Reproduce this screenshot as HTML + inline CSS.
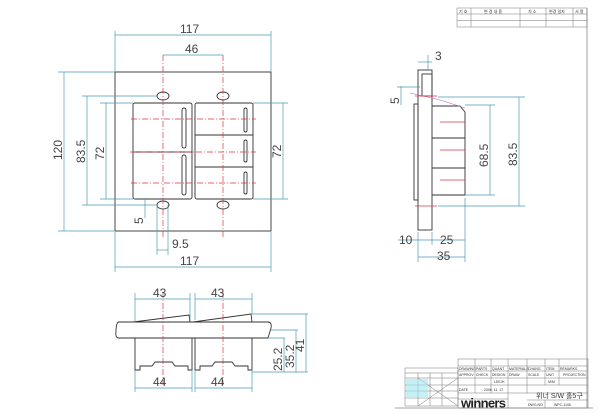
<!DOCTYPE html>
<html><head><meta charset="utf-8"><style>
html,body{margin:0;padding:0;background:#fff;}
svg{display:block;font-family:"Liberation Sans","Noto Sans CJK KR",sans-serif;}
.d{stroke:#4a9ab2;stroke-width:0.7;fill:none}
.k{stroke:#333;stroke-width:0.9;fill:none}
.r{stroke:#e0304a;stroke-width:0.7;fill:none;stroke-dasharray:6 2 1 2}
.t{fill:#444;font-size:12px}
.s{fill:#333;font-size:4px}
</style></head><body>
<svg width="600" height="419" viewBox="0 0 600 419">
<line x1="587" y1="8" x2="587" y2="408" stroke="#888" stroke-width="0.8"/>
<line x1="395" y1="408" x2="593" y2="408" stroke="#888" stroke-width="0.8"/>
<g stroke="#777" stroke-width="0.5" fill="none">
<rect x="457" y="8" width="130" height="19"/>
<line x1="457" y1="14" x2="587" y2="14"/><line x1="457" y1="20.5" x2="587" y2="20.5"/>
<line x1="471" y1="8" x2="471" y2="27"/><line x1="520" y1="8" x2="520" y2="27"/>
<line x1="546" y1="8" x2="546" y2="27"/><line x1="573" y1="8" x2="573" y2="27"/>
</g>
<text class="s" x="459" y="13">기 호</text><text class="s" x="484" y="13">변 경 내 용</text>
<text class="s" x="528" y="13">치 소</text><text class="s" x="549" y="13">변경 일자</text><text class="s" x="575" y="13">서 명</text>

<!-- FRONT VIEW -->
<rect x="115" y="72" width="156" height="159" class="k" stroke-width="0.8"/>
<rect x="133" y="103" width="59" height="96" rx="2" class="k" stroke-width="1.2"/>
<rect x="195" y="103" width="58" height="96" rx="2" class="k" stroke-width="1.2"/>
<line x1="133" y1="152" x2="192" y2="152" class="k"/>
<line x1="195" y1="135" x2="253" y2="135" class="k"/>
<line x1="195" y1="167" x2="253" y2="167" class="k"/>
<rect x="182" y="108" width="4" height="40" rx="2" class="k" stroke-width="0.6"/>
<rect x="182" y="155" width="4" height="40" rx="2" class="k" stroke-width="0.6"/>
<rect x="244" y="108" width="3" height="24" rx="1.5" class="k" stroke-width="0.6"/>
<rect x="244" y="140" width="3" height="22" rx="1.5" class="k" stroke-width="0.6"/>
<rect x="244" y="172" width="3" height="22" rx="1.5" class="k" stroke-width="0.6"/>
<g class="k" stroke-width="0.7">
<ellipse cx="163" cy="96" rx="6" ry="4"/><ellipse cx="223" cy="96" rx="6" ry="4"/>
<ellipse cx="163" cy="205" rx="6" ry="4"/><ellipse cx="223" cy="205" rx="6" ry="4"/>
</g>
<line x1="163" y1="55" x2="163" y2="238" class="r"/>
<line x1="223" y1="55" x2="223" y2="238" class="r"/>
<line x1="131" y1="119" x2="256" y2="119" class="r"/>
<line x1="131" y1="183" x2="256" y2="183" class="r"/>
<line x1="130" y1="152" x2="256" y2="152" class="r"/>
<g class="d">
<line x1="115" y1="35" x2="271" y2="35"/><line x1="115" y1="31" x2="115" y2="72"/><line x1="271" y1="31" x2="271" y2="72"/>
<line x1="163" y1="55" x2="223" y2="55"/>
<line x1="115" y1="267" x2="271" y2="267"/><line x1="115" y1="232" x2="115" y2="272"/><line x1="271" y1="232" x2="271" y2="272"/>
<line x1="106" y1="103" x2="106" y2="199"/><line x1="100" y1="103" x2="133" y2="103"/><line x1="100" y1="199" x2="133" y2="199"/>
<line x1="87" y1="96" x2="87" y2="205"/><line x1="82" y1="96" x2="157" y2="96"/><line x1="82" y1="205" x2="157" y2="205"/>
<line x1="64" y1="72" x2="64" y2="231"/><line x1="58" y1="72" x2="115" y2="72"/><line x1="58" y1="231" x2="115" y2="231"/>
<line x1="283" y1="103" x2="283" y2="199"/><line x1="253" y1="103" x2="288" y2="103"/><line x1="253" y1="199" x2="288" y2="199"/>
<line x1="157" y1="205" x2="157" y2="255"/><line x1="168" y1="205" x2="168" y2="255"/><line x1="157" y1="250" x2="168" y2="250"/>
<line x1="145" y1="199" x2="145" y2="218"/>
</g>
<text class="t" x="180" y="33">117</text><text class="t" x="185" y="53">46</text>
<text class="t" x="180" y="265">117</text><text class="t" x="172" y="248">9.5</text>
<text class="t" transform="translate(104,160) rotate(-90)">72</text>
<text class="t" transform="translate(85,163) rotate(-90)">83.5</text>
<text class="t" transform="translate(62,160) rotate(-90)">120</text>
<text class="t" transform="translate(281,158) rotate(-90)">72</text>
<text class="t" transform="translate(143,224) rotate(-90)">5</text>

<!-- SIDE VIEW -->
<rect x="418" y="70" width="14" height="160" class="k"/>
<rect x="414" y="104" width="4" height="96" class="k" stroke-width="0.7"/>
<rect x="422" y="74" width="10" height="22" class="k" stroke-width="0.6"/>
<path d="M432 106 L460 106 L465 112 L465 195 L432 195" class="k"/>
<line x1="432" y1="138" x2="465" y2="138" class="k" stroke-width="0.6"/>
<line x1="432" y1="168" x2="465" y2="168" class="k" stroke-width="0.6"/>
<path d="M410 93 L440 100 L465 108" stroke="#c060c0" stroke-width="0.6" fill="none"/>
<g stroke="#e0304a" stroke-width="0.7">
<line x1="440" y1="122" x2="465" y2="122"/><line x1="440" y1="150" x2="465" y2="150"/><line x1="440" y1="180" x2="465" y2="180"/>
<line x1="415" y1="96" x2="437" y2="96"/><line x1="415" y1="206" x2="437" y2="206"/>
</g>
<g class="d">
<line x1="438" y1="97" x2="525" y2="97"/><line x1="438" y1="206" x2="525" y2="206"/><line x1="519" y1="97" x2="519" y2="206"/>
<line x1="465" y1="105" x2="495" y2="105"/><line x1="465" y1="195" x2="495" y2="195"/><line x1="490" y1="105" x2="490" y2="195"/>
<line x1="418" y1="62" x2="432" y2="62"/><line x1="428" y1="55" x2="428" y2="70"/>
<line x1="401" y1="86" x2="401" y2="105"/><line x1="397" y1="87" x2="420" y2="87"/>
<line x1="398" y1="240" x2="465" y2="240"/><line x1="418" y1="232" x2="418" y2="262"/><line x1="432" y1="232" x2="432" y2="245"/><line x1="465" y1="198" x2="465" y2="262"/>
<line x1="418" y1="257" x2="465" y2="257"/>
</g>
<text class="t" x="435" y="60">3</text>
<text class="t" transform="translate(399,104) rotate(-90)">5</text>
<text class="t" transform="translate(488,167) rotate(-90)">68.5</text>
<text class="t" transform="translate(517,166) rotate(-90)">83.5</text>
<text class="t" x="399" y="244">10</text><text class="t" x="440" y="244">25</text><text class="t" x="437" y="260">35</text>

<!-- BOTTOM VIEW -->
<path d="M119 322 L268 322 Q272 322 271 328 L268 338 L119 338 Q115 338 116 332 Q116 322 119 322 Z" class="k"/>
<path d="M133 322 L189 315 L190 322" class="k" stroke-width="0.7"/>
<path d="M193 322 L251 314 L252 322" class="k" stroke-width="0.7"/>
<path d="M135 338 L135 370 L140 370 L140 366 L152 366 L155 362 L172 362 L175 366 L188 366 L188 370 L192 370 L192 338" class="k" stroke-width="0.7"/>
<path d="M195 338 L195 370 L200 370 L200 366 L212 366 L215 362 L232 362 L235 366 L248 366 L248 370 L252 370 L252 338" class="k" stroke-width="0.7"/>
<line x1="163" y1="292" x2="163" y2="385" class="r"/>
<line x1="223" y1="292" x2="223" y2="385" class="r"/>
<g class="d">
<line x1="135" y1="299" x2="190" y2="299"/><line x1="195" y1="299" x2="252" y2="299"/>
<line x1="135" y1="293" x2="135" y2="322"/><line x1="190" y1="293" x2="190" y2="320"/><line x1="195" y1="293" x2="195" y2="320"/><line x1="252" y1="293" x2="252" y2="314"/>
<line x1="135" y1="388" x2="192" y2="388"/><line x1="195" y1="388" x2="252" y2="388"/>
<line x1="135" y1="370" x2="135" y2="392"/><line x1="192" y1="370" x2="192" y2="392"/><line x1="195" y1="370" x2="195" y2="392"/><line x1="252" y1="370" x2="252" y2="392"/>
<line x1="252" y1="314" x2="308" y2="314"/><line x1="271" y1="330" x2="298" y2="330"/><line x1="252" y1="372" x2="308" y2="372"/><line x1="268" y1="338" x2="285" y2="338"/>
<line x1="284" y1="338" x2="284" y2="372"/><line x1="296" y1="330" x2="296" y2="372"/><line x1="306" y1="314" x2="306" y2="372"/>
</g>
<text class="t" x="153" y="297">43</text><text class="t" x="211" y="297">43</text>
<text class="t" x="153" y="386">44</text><text class="t" x="211" y="386">44</text>
<text class="t" transform="translate(282,371) rotate(-90)">25.2</text>
<text class="t" transform="translate(294,368) rotate(-90)">35.2</text>
<text class="t" transform="translate(304,352) rotate(-90)">41</text>

<!-- TITLE BLOCK -->
<g stroke="#777" stroke-width="0.5" fill="none">
<rect x="458" y="359" width="130" height="49"/>
<line x1="458" y1="366" x2="588" y2="366"/><line x1="458" y1="371" x2="588" y2="371"/>
<line x1="458" y1="378" x2="588" y2="378"/><line x1="458" y1="385" x2="588" y2="385"/>
<line x1="458" y1="393" x2="588" y2="393"/>
<line x1="475" y1="359" x2="475" y2="393"/><line x1="491" y1="359" x2="491" y2="393"/>
<line x1="508" y1="359" x2="508" y2="408"/><line x1="527" y1="359" x2="527" y2="393"/>
<line x1="545" y1="359" x2="545" y2="385"/><line x1="559" y1="359" x2="559" y2="385"/>
<line x1="527" y1="400" x2="588" y2="400"/><line x1="545" y1="400" x2="545" y2="408"/>
<line x1="458" y1="399" x2="508" y2="399"/>
<rect x="405" y="368" width="53" height="38"/>
<line x1="405" y1="373" x2="458" y2="373"/><line x1="405" y1="378" x2="458" y2="378"/>
<line x1="405" y1="385" x2="458" y2="385"/><line x1="405" y1="391" x2="458" y2="391"/><line x1="405" y1="398" x2="458" y2="398"/>
<line x1="418" y1="373" x2="418" y2="406"/><line x1="430" y1="373" x2="430" y2="406"/><line x1="442" y1="373" x2="442" y2="406"/>
<line x1="418" y1="406" x2="458" y2="378"/><line x1="418" y1="378" x2="458" y2="406"/>
</g>
<rect x="406" y="379" width="22" height="18" fill="#9fe6ee" opacity="0.6"/>
<g class="s" style="font-size:3.5px">
<text x="459" y="370">DRAWING</text><text x="476" y="370">PARTS</text><text x="492" y="370">QUANT</text><text x="509" y="370">MATERIALS</text><text x="528" y="370">CHANG</text><text x="546" y="370">ITEM</text><text x="560" y="370">REMARKS</text>
<text x="459" y="376">APPROV</text><text x="476" y="376">CHECK</text><text x="492" y="376">DESIGN</text><text x="509" y="376">DRAW</text><text x="528" y="376">SCALE</text><text x="546" y="376">UNIT</text><text x="563" y="376">PROJECTION</text>
<text x="494" y="383">LEEJK</text><text x="548" y="383">M/M</text>
<text x="459" y="391">DATE</text><text x="484" y="391">2006. 11. 17</text>
<text x="528" y="406">DWG.NO</text><text x="554" y="406">WPC-1106</text>
</g>
<text x="536" y="398" style="font-size:7px;fill:#333">위너 S/W 홀5구</text>
<text x="461" y="407.5" style="font-size:13px;font-weight:bold;fill:#222" textLength="45">winners</text>
</svg>
</body></html>
